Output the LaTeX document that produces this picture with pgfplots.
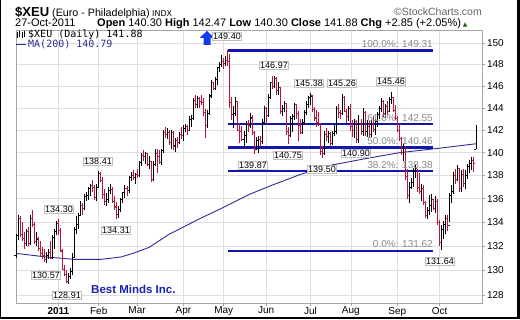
\documentclass[border=0pt]{standalone}
\usepackage{fontspec}
\setmainfont{Liberation Sans}
\newfontfamily\dejavu{DejaVu Sans}
\newfontfamily\dmono{DejaVu Sans Mono}
\usepackage{pgfplots}
\pgfplotsset{compat=1.18}
\usepackage{pgfplotstable}
\definecolor{dnred}{RGB}{185,20,60}
\definecolor{fibblue}{RGB}{20,20,175}
\definecolor{mablue}{RGB}{45,45,150}
\definecolor{gridc}{RGB}{222,222,222}
\definecolor{framec}{RGB}{165,165,165}
\definecolor{arrowblue}{RGB}{20,60,235}
\definecolor{bmblue}{RGB}{25,35,175}
\definecolor{fibtext}{RGB}{135,135,135}
% OHLC bar mark, drawn from the low; 1587.3pt per unit of ln(price)
\pgfdeclareplotmark{ohlc}{%
  \pgfmathsetmacro\hh{1587.3*ln(\hv/\lv)}%
  \pgfmathsetmacro\oo{1587.3*ln(\ov/\lv)}%
  \pgfmathsetmacro\cc{1587.3*ln(\cv/\lv)}%
  \pgfpathmoveto{\pgfqpoint{0pt}{0pt}}\pgfpathlineto{\pgfqpoint{0pt}{\hh pt}}%
  \pgfpathmoveto{\pgfqpoint{-1.5pt}{\oo pt}}\pgfpathlineto{\pgfqpoint{0pt}{\oo pt}}%
  \pgfpathmoveto{\pgfqpoint{0pt}{\cc pt}}\pgfpathlineto{\pgfqpoint{1.5pt}{\cc pt}}%
  \pgfusepathqstroke}

\pgfplotstableread{
x H L O C
-21 133.0 131.0 131.2 132.9
-20 134.6 132.5 132.9 134.3
-19 134.5 132.8 134.3 133.0
-18 134.0 132.4 133.0 132.6
-17 133.2 131.8 132.6 132.2
-16 133.4 132.0 132.2 133.2
-15 133.6 132.0 133.2 132.2
-14 134.6 132.1 132.2 134.3
-13 135.0 133.6 134.3 133.8
-12 134.0 132.2 133.8 132.4
-11 133.2 132.0 132.4 132.6
-10 132.8 131.6 132.6 131.8
-9 132.4 131.2 131.8 131.4
-8 131.9 130.9 131.4 131.2
-7 131.8 130.7 131.2 130.9
-6 131.5 130.57 130.9 131.2
-5 131.8 130.9 131.2 131.5
-4 132.4 130.9 131.5 131.0
-3 132.9 130.9 131.0 132.7
-2 133.4 131.8 132.7 133.2
-1 134.1 132.9 133.2 133.9
0 134.30 132.9 133.9 133.3
1 133.5 131.5 133.3 131.6
2 131.8 130.0 131.6 130.1
3 130.4 129.5 130.1 129.7
4 130.0 129.0 129.7 129.1
5 129.8 128.91 129.1 129.5
6 130.2 129.3 129.5 129.9
7 131.4 129.6 129.9 131.1
8 133.6 131.0 131.1 133.4
9 134.5 133.0 133.4 133.8
10 134.8 133.4 133.8 134.6
11 135.8 134.5 134.6 135.4
12 135.6 134.6 135.4 135.2
13 136.4 135.0 135.2 136.2
14 136.6 135.8 136.2 136.3
15 137.0 135.9 136.3 136.9
16 137.3 136.2 136.9 137.1
17 137.6 136.6 137.1 137.0
18 137.2 135.9 137.0 136.1
19 137.3 135.8 136.1 137.0
20 138.41 136.9 137.0 138.2
21 138.3 137.4 138.2 137.6
22 137.9 136.0 137.6 136.4
23 136.8 135.5 136.4 135.8
24 136.5 135.4 135.8 135.9
25 137.0 135.6 135.9 136.7
26 137.3 136.4 136.7 136.8
27 137.0 135.6 136.8 135.8
28 136.2 135.0 135.8 135.3
29 135.7 134.31 135.3 134.7
30 135.4 134.4 134.7 135.1
31 136.1 134.9 135.1 135.9
32 136.6 135.6 135.9 136.5
33 137.2 136.1 136.5 136.9
34 137.1 136.2 136.9 136.7
35 138.0 136.5 136.7 137.8
36 138.3 137.5 137.8 138.0
37 138.5 137.6 138.0 137.8
38 138.2 137.3 137.8 138.1
39 138.6 137.8 138.1 138.0
40 139.3 137.9 138.0 139.1
41 140.0 138.8 139.1 139.8
42 140.2 139.3 139.8 139.7
43 140.1 139.0 139.7 139.9
44 140.0 138.8 139.9 139.0
45 139.7 138.6 139.0 139.2
46 139.3 137.4 139.2 137.7
47 139.3 137.5 137.7 139.0
48 140.3 138.8 139.0 139.9
49 140.3 138.2 139.9 139.7
50 140.2 139.0 139.7 139.1
51 140.3 138.9 139.1 140.2
52 142.0 140.0 140.2 141.8
53 142.3 141.3 141.8 141.6
54 142.2 141.2 141.6 141.8
55 142.0 140.7 141.8 140.9
56 142.0 140.3 140.9 141.8
57 141.9 140.2 141.8 140.6
58 141.3 140.1 140.6 141.1
59 141.4 140.4 141.1 140.9
60 141.8 140.8 140.9 141.6
61 142.3 141.2 141.6 141.5
62 142.5 141.0 141.5 142.2
63 142.6 141.8 142.2 142.3
64 142.5 141.6 142.3 142.0
65 143.3 141.9 142.0 143.0
66 143.4 142.3 143.0 143.1
67 144.9 142.9 143.1 144.7
68 145.2 144.0 144.7 144.3
69 145.1 144.0 144.3 144.9
70 145.0 144.0 144.9 144.6
71 145.2 144.3 144.6 144.5
72 144.9 143.3 144.5 143.6
73 143.9 141.3 143.6 142.4
74 143.8 142.2 142.4 143.5
75 145.3 143.4 143.5 145.1
76 146.6 144.9 145.1 146.3
77 146.3 145.6 146.3 145.8
78 146.8 145.6 145.8 146.6
79 147.8 146.1 146.6 147.7
80 148.2 147.3 147.7 148.0
81 148.9 147.8 148.0 148.3
82 148.6 147.6 148.3 148.1
83 148.8 147.9 148.1 148.4
84 149.40 147.9 148.4 148.3
85 149.0 144.0 148.3 144.5
86 145.0 142.9 144.5 143.4
87 144.2 142.2 143.4 143.5
88 145.0 143.3 143.5 144.6
89 144.6 141.9 144.6 142.0
90 142.6 140.9 142.0 141.9
91 142.4 141.0 141.9 141.2
92 141.9 140.5 141.2 141.5
93 142.8 140.9 141.5 142.6
94 142.9 141.8 142.6 142.4
95 143.5 142.2 142.4 143.1
96 143.4 141.6 143.1 141.8
97 141.9 139.87 141.8 140.3
98 141.4 140.2 140.3 141.1
99 141.5 140.0 141.1 141.2
100 141.5 140.6 141.2 141.0
101 143.0 140.8 141.0 142.7
102 144.2 142.5 142.7 144.0
103 144.1 142.6 144.0 143.3
104 145.3 143.2 143.3 145.0
105 146.4 144.8 145.0 146.3
106 146.9 145.7 146.3 146.0
107 146.97 145.8 146.0 146.7
108 146.8 145.2 146.7 145.6
109 146.4 145.2 145.6 145.9
110 145.9 143.5 145.9 143.7
111 144.3 143.3 143.7 144.0
112 144.6 143.6 144.0 144.4
113 144.5 141.6 144.4 141.9
114 142.3 140.75 141.9 141.5
115 143.3 141.4 141.5 143.1
116 143.5 141.8 143.1 143.2
117 144.5 142.9 143.2 144.3
118 144.4 143.0 144.3 143.5
119 143.7 141.0 143.5 142.4
120 143.0 141.7 142.4 141.8
121 143.0 141.7 141.8 142.7
122 143.8 142.5 142.7 143.6
123 144.6 143.4 143.6 144.3
124 145.1 144.0 144.3 145.0
125 145.38 144.3 145.0 145.1
126 145.2 143.6 145.1 143.9
127 144.1 142.8 143.9 143.1
128 143.8 142.3 143.1 142.7
129 143.6 142.4 142.7 142.6
130 142.6 139.8 142.6 140.1
131 140.6 139.50 140.1 139.9
132 141.9 139.8 139.9 141.6
133 142.2 141.0 141.6 141.4
134 141.9 140.9 141.4 141.7
135 141.8 140.6 141.7 140.8
136 141.9 140.7 140.8 141.7
137 142.5 141.5 141.7 141.9
138 144.2 141.7 141.9 144.0
139 144.4 143.1 144.0 143.6
140 143.8 143.0 143.6 143.5
141 145.26 143.4 143.5 145.0
142 145.1 143.6 145.0 143.7
143 143.9 142.6 143.7 143.2
144 144.2 142.8 143.2 144.0
145 144.4 141.9 144.0 142.3
146 142.9 141.4 142.3 142.0
147 143.0 141.3 142.0 142.8
148 142.9 140.90 142.8 141.2
149 143.4 140.9 141.2 142.6
150 143.0 141.6 142.6 141.9
151 144.0 141.5 141.9 143.6
152 143.7 141.5 143.6 141.9
153 142.9 141.4 141.9 142.3
154 142.8 141.3 142.3 141.6
155 142.9 141.4 141.6 142.6
156 143.3 141.8 142.6 142.1
157 143.0 141.6 142.1 142.8
158 143.6 142.3 142.8 143.4
159 144.2 143.0 143.4 144.0
160 144.9 143.6 144.0 144.6
161 144.7 143.2 144.6 143.5
162 144.4 143.1 143.5 144.1
163 144.6 143.4 144.1 143.7
164 145.0 143.6 143.7 144.8
165 145.46 144.4 144.8 145.0
166 145.0 143.6 145.0 143.8
167 144.3 142.9 143.8 143.1
168 143.3 141.8 143.1 142.0
169 142.6 141.0 142.0 141.3
170 141.4 139.8 141.3 140.0
171 140.8 139.3 140.0 140.4
172 140.5 137.6 140.4 137.9
173 138.6 136.0 137.9 136.3
174 137.4 135.6 136.3 137.0
175 137.8 136.8 137.0 137.4
176 138.7 137.0 137.4 138.4
177 138.9 137.8 138.4 138.6
178 138.6 136.6 138.6 137.0
179 138.2 136.4 137.0 136.6
180 137.3 135.8 136.6 136.9
181 137.2 135.5 136.9 135.7
182 135.8 134.4 135.7 134.6
183 135.3 134.3 134.6 135.0
184 136.3 134.6 135.0 135.4
185 136.4 134.9 135.4 135.9
186 136.0 135.0 135.9 135.2
187 136.2 134.8 135.2 135.8
188 136.0 133.8 135.8 134.0
189 134.2 132.0 134.0 132.3
190 133.8 131.64 132.3 133.4
191 134.1 132.6 133.4 133.8
192 134.6 133.0 133.8 134.3
193 134.6 133.3 134.3 133.7
194 136.5 134.0 133.7 136.3
195 137.2 135.6 136.3 136.6
196 138.3 136.4 136.6 138.0
197 138.6 137.3 138.0 137.7
198 138.9 137.5 137.7 138.6
199 138.7 136.6 138.6 136.9
200 138.5 136.6 136.9 138.1
201 138.6 137.0 138.1 137.3
202 138.5 136.8 137.3 138.0
203 139.0 137.7 138.0 138.8
204 139.4 138.2 138.8 139.1
205 139.6 138.5 139.1 139.3
206 139.6 138.3 139.3 139.03
207 142.47 140.30 140.30 141.88
}\ohlc

\pgfplotstableread{
x ma
-21 131.4
-6 131.1
8 130.9
21 130.9
31 131.1
37 131.4
45 131.9
55 133.0
62 133.6
70 134.3
80 135.1
95 136.4
105 137.1
120 138.1
135 138.9
153 139.5
169 140.0
189 140.4
207 140.79
}\matab

\begin{document}
\begin{tikzpicture}[x=1pt,y=1pt]
\useasboundingbox (0,0) rectangle (520,319);
\fill[black] (0,0) rectangle (520,319);
\fill[white] (1,2.5) rectangle (516.5,319);
\begin{axis}[
  at={(16pt,16pt)}, anchor=south west,
  scale only axis, width=466pt, height=273pt,
  xmin=-21, xmax=210,
  ymode=log, ymin=127.36, ymax=151.26,
  yminorticks=false, xminorticks=false,
  ytick={128,130,132,134,136,138,140,142,144,146,148,150},
  yticklabels={128,130,132,134,136,138,140,142,144,146,148,150},
  xtick={0,20,39,62,82,103,125,145,168,189},
  xticklabels={\textbf{2011},Feb,Mar,Apr,May,Jun,Jul,Aug,Sep,Oct},
  grid=major, major grid style={gridc, line width=0.6pt},
  axis line style={framec, line width=0.6pt},
  tick style={framec, line width=0.6pt},
  tick align=outside, major tick length=3pt,
  xtick pos=bottom, ytick pos=right, yticklabel pos=right,
  ticklabel style={font=\fontsize{10}{12}\selectfont, text=black},
  xticklabel style={yshift=2.3pt},
  yticklabel style={xshift=-1.5pt},
  /pgf/number format/assume math mode=true,
]
\addplot[mablue, line width=0.9pt, mark=none] table[x=x, y=ma] {\matab};
\addplot[fibblue, line width=2.2pt, mark=none] coordinates {(84,149.31) (185.6,149.31)};
\addplot[fibblue, line width=2.2pt, mark=none] coordinates {(84,142.55) (185.6,142.55)};
\addplot[fibblue, line width=2.2pt, mark=none] coordinates {(84,140.46) (185.6,140.46)};
\addplot[fibblue, line width=2.2pt, mark=none] coordinates {(84,138.38) (185.6,138.38)};
\addplot[fibblue, line width=2.2pt, mark=none] coordinates {(84,131.62) (185.6,131.62)};
% up bars (black)
\addplot[scatter, only marks, mark=ohlc, point meta=0,
  scatter/use mapped color={draw=black, fill=black},
  mark options={line width=0.9pt},
  visualization depends on={\thisrow{H} \as \hv},
  visualization depends on={\thisrow{L} \as \lv},
  visualization depends on={\thisrow{O} \as \ov},
  visualization depends on={\thisrow{C} \as \cv}]
  table[x expr={\thisrow{C}>=\thisrow{O} ? \thisrow{x} : nan}, y=L] {\ohlc};
% down bars (red)
\addplot[scatter, only marks, mark=ohlc, point meta=0,
  scatter/use mapped color={draw=dnred, fill=dnred},
  mark options={line width=0.9pt},
  visualization depends on={\thisrow{H} \as \hv},
  visualization depends on={\thisrow{L} \as \lv},
  visualization depends on={\thisrow{O} \as \ov},
  visualization depends on={\thisrow{C} \as \cv}]
  table[x expr={\thisrow{C}<\thisrow{O} ? \thisrow{x} : nan}, y=L] {\ohlc};
\end{axis}

% header
\node[anchor=base west, inner sep=0] at (15,302) {\fontsize{13}{15}\selectfont\textbf{\$XEU}};
\node[anchor=base west, inner sep=0] at (52,302) {\fontsize{10.7}{13}\selectfont (Euro - Philadelphia)};
\node[anchor=base west, inner sep=0] at (152,302) {\dejavu\fontsize{8}{10}\selectfont INDX};
\node[anchor=base east, inner sep=0, text=black!60] at (482,303.5) {\fontsize{10.5}{12}\selectfont \copyright StockCharts.com};
\node[anchor=base west, inner sep=0] at (15,292) {\fontsize{11}{13}\selectfont 27-Oct-2011};
\node[anchor=base west, inner sep=0] at (97,292) {\fontsize{11}{13}\selectfont \textbf{Open} 140.30 \textbf{High} 142.47 \textbf{Low} 140.30 \textbf{Close} 141.88 \textbf{Chg} +2.85 (+2.05\%)\,{\dejavu\fontsize{6}{7}\selectfont\textcolor{green!45!black}{▲}}};

% legend
\draw[black, line width=0.8pt] (17,281)--(17,287) (19.5,282)--(19.5,288) (22,280.5)--(22,286.5) (24.5,282)--(24.5,287.5);
\node[anchor=base west, inner sep=0] at (28,281) {\dmono\fontsize{10}{12}\selectfont \$XEU (Daily) 141.88};
\draw[mablue, line width=1.5pt] (16,274.5)--(26,274.5);
\node[anchor=base west, inner sep=0, text=mablue] at (28,271) {\dmono\fontsize{10}{12}\selectfont MA(200) 140.79};

% up arrow
\fill[arrowblue] (207,288) -- (214.5,281) -- (210.5,281) -- (210.5,274) -- (203.5,274) -- (203.5,281) -- (199.5,281) -- cycle;

% fib labels
\begin{scope}[every node/.style={anchor=base east, inner sep=0, text=fibtext, font=\fontsize{10}{12}\selectfont}]
\node at (433,271) {100.0\%: 149.31};
\node at (433,197.5) {61.8\%: 142.55};
\node at (433,174) {50.0\%: 140.46};
\node at (433,150.3) {38.2\%: 138.38};
\node at (433,71) {0.0\%: 131.62};
\end{scope}

% price labels
\begin{scope}[every node/.style={draw=black!25, fill=white, inner sep=0.9pt, line width=0.5pt, font=\fontsize{9}{10}\selectfont}]
\node at (227,283) {149.40};
\node at (274,254) {146.97};
\node at (309,236) {145.38};
\node at (342,236) {145.26};
\node at (391,238) {145.46};
\node at (253,154) {139.87};
\node at (288,163.5) {140.75};
\node at (322,150) {139.50};
\node at (356,165.5) {140.90};
\node at (440,57.5) {131.64};
\node at (98,158) {138.41};
\node at (59,110) {134.30};
\node at (116,89) {134.31};
\node at (46,44) {130.57};
\node at (67,24) {128.91};
\end{scope}

\node[anchor=base west, inner sep=0, text=bmblue] at (91,26) {\fontsize{11.5}{13}\selectfont\textbf{Best Minds Inc.}};
\end{tikzpicture}
\end{document}
